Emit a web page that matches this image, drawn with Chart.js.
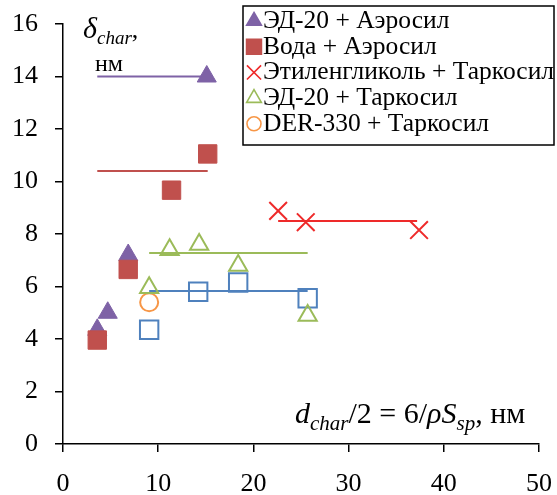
<!DOCTYPE html>
<html>
<head>
<meta charset="utf-8">
<script src="https://cdn.jsdelivr.net/npm/chart.js@4/dist/chart.umd.min.js"></script>
<style>
  body { margin: 0; background: #fff; }
  #wrap { width: 557px; height: 495px; }
</style>
</head>
<body>
<div id="wrap"><canvas id="chart"></canvas></div>
<script>
// series (x = d_char/2, y = delta_char, nm)
const ed20Aerosil = [{x: 3.6, y: 4.35}, {x: 4.7, y: 5.0}, {x: 6.85, y: 7.2}, {x: 15.1, y: 14.0}];
const waterAerosil = [{x: 3.6, y: 3.96}, {x: 6.85, y: 6.65}, {x: 11.4, y: 9.67}, {x: 15.2, y: 11.05}];
const glycolTarkosil = [{x: 22.6, y: 8.88}, {x: 25.5, y: 8.45}, {x: 37.4, y: 8.15}];
const ed20Tarkosil = [{x: 9.05, y: 5.95}, {x: 11.2, y: 7.4}, {x: 14.3, y: 7.6}, {x: 18.4, y: 6.8}, {x: 25.7, y: 4.9}];
const derTarkosil = [{x: 9.05, y: 5.4}];
const blueSquares = [{x: 9.05, y: 4.35}, {x: 14.2, y: 5.8}, {x: 18.4, y: 6.15}, {x: 25.7, y: 5.55}];

// horizontal mean lines
const ed20AerosilMean = [{x: 3.6, y: 14.0}, {x: 15.1, y: 14.0}];
const waterAerosilMean = [{x: 3.6, y: 10.4}, {x: 15.2, y: 10.4}];
const glycolMean = [{x: 22.6, y: 8.5}, {x: 37.2, y: 8.5}];
const ed20TarkosilMean = [{x: 9.05, y: 7.28}, {x: 25.7, y: 7.28}];
const blueMean = [{x: 9.05, y: 5.83}, {x: 25.7, y: 5.83}];

const legendLabels = ['ЭД-20 + Аэросил', 'Вода + Аэросил', 'Этиленгликоль + Таркосил', 'ЭД-20 + Таркосил', 'DER-330 + Таркосил'];

const purple = '#7e62a6';
const brick = '#c0504d';
const red = '#ee2a2a';
const green = '#9bbb59';
const blue = '#4f81bd';
const orange = '#f79646';
const serif = "'Liberation Serif', serif";

function meanLine(data, color, order) {
  return { type: 'line', data: data, borderColor: color, borderWidth: 2, pointRadius: 0, showLine: true, fill: false, order: order };
}

// drop the label overhang chart.js adds around the plot, layout padding does it
function fixPadding(scale) {
  scale.paddingTop = 0;
  scale.paddingBottom = 0;
  scale.paddingLeft = 0;
  scale.paddingRight = 0;
}

const textPlugin = {
  id: 'texts',
  afterDraw(chart) {
    const ctx = chart.ctx;
    ctx.save();
    ctx.fillStyle = '#000';
    ctx.textBaseline = 'alphabetic';
    ctx.textAlign = 'left';

    function run(parts, x, y) {
      parts.forEach(p => {
        ctx.font = p[1];
        ctx.fillText(p[0], x, y + (p[2] || 0));
        x += ctx.measureText(p[0]).width;
      });
    }

    // y axis caption
    run([['δ', 'italic 30px ' + serif], ['char', 'italic 19px ' + serif, 6], [',', '26px ' + serif]], 83, 38);
    run([['нм', '24px ' + serif]], 95, 71);

    // x axis caption
    run([
      ['d', 'italic 30px ' + serif], ['char', 'italic 21px ' + serif, 7],
      ['/2 = 6/', '30px ' + serif], ['ρS', 'italic 30px ' + serif],
      ['sp', 'italic 21px ' + serif, 7], [', нм', '30px ' + serif]
    ], 295, 423);

    // legend box
    const bx = 243, by = 6, bw = 311, bh = 139;
    ctx.fillStyle = '#fff';
    ctx.fillRect(bx, by, bw, bh);
    ctx.strokeStyle = '#000';
    ctx.lineWidth = 1.5;
    ctx.strokeRect(bx, by, bw, bh);

    const styles = [
      {style: 'triangle', fill: purple, stroke: purple, r: 8.5},
      {style: 'rect', fill: brick, stroke: brick, r: 10.5},
      {style: 'crossRot', fill: red, stroke: red, r: 10},
      {style: 'triangle', fill: 'rgba(0,0,0,0)', stroke: green, r: 8.5},
      {style: 'circle', fill: 'rgba(0,0,0,0)', stroke: orange, r: 7}
    ];
    ctx.font = '25.5px ' + serif;
    legendLabels.forEach((label, i) => {
      const base = 28 + i * 25.7;
      const s = styles[i];
      ctx.fillStyle = s.fill;
      ctx.strokeStyle = s.stroke;
      ctx.lineWidth = 1.6;
      Chart.helpers.drawPoint(ctx, {pointStyle: s.style, radius: s.r, rotation: 0, borderWidth: 1.6}, 254, base - 7);
      ctx.fillStyle = '#000';
      ctx.fillText(label, 263, base);
    });
    ctx.restore();
  }
};

new Chart(document.getElementById('chart'), {
  type: 'scatter',
  data: {
    datasets: [
      { label: legendLabels[1], data: waterAerosil, pointStyle: 'rect', pointRadius: 13, backgroundColor: brick, borderColor: brick, borderWidth: 1, order: 1 },
      { label: legendLabels[0], data: ed20Aerosil, pointStyle: 'triangle', pointRadius: 11, backgroundColor: purple, borderColor: purple, borderWidth: 1, order: 2 },
      { label: legendLabels[2], data: glycolTarkosil, pointStyle: 'crossRot', pointRadius: 12.5, backgroundColor: red, borderColor: red, borderWidth: 2, order: 3 },
      { label: legendLabels[3], data: ed20Tarkosil, pointStyle: 'triangle', pointRadius: 10.5, backgroundColor: 'rgba(0,0,0,0)', borderColor: green, borderWidth: 2, order: 4 },
      { label: legendLabels[4], data: derTarkosil, pointStyle: 'circle', pointRadius: 9, backgroundColor: 'rgba(0,0,0,0)', borderColor: orange, borderWidth: 2, order: 5 },
      { label: 'blue', data: blueSquares, pointStyle: 'rect', pointRadius: 13, backgroundColor: 'rgba(0,0,0,0)', borderColor: blue, borderWidth: 2, order: 6 },
      meanLine(ed20AerosilMean, purple, 7),
      meanLine(waterAerosilMean, brick, 8),
      meanLine(glycolMean, red, 9),
      meanLine(ed20TarkosilMean, green, 10),
      meanLine(blueMean, blue, 11)
    ]
  },
  options: {
    responsive: true,
    maintainAspectRatio: false,
    animation: false,
    layout: { padding: { top: 24, right: 18, left: 0, bottom: 0 } },
    plugins: {
      legend: { display: false },
      tooltip: { enabled: false }
    },
    scales: {
      x: {
        type: 'linear',
        min: 0,
        max: 50,
        afterFit: (scale) => { scale.height = 51; fixPadding(scale); },
        ticks: { stepSize: 10, color: '#000', font: { family: serif, size: 26 }, padding: 17, maxRotation: 0 },
        grid: { drawOnChartArea: false, drawTicks: true, tickLength: 8, color: '#000', lineWidth: 1.5 },
        border: { display: true, color: '#000', width: 1.5 }
      },
      y: {
        type: 'linear',
        min: 0,
        max: 16,
        afterFit: (scale) => { scale.width = 63; fixPadding(scale); },
        ticks: { stepSize: 2, color: '#000', font: { family: serif, size: 26 }, padding: 17 },
        grid: { drawOnChartArea: false, drawTicks: true, tickLength: 8, color: '#000', lineWidth: 1.5 },
        border: { display: true, color: '#000', width: 1.5 }
      }
    }
  },
  plugins: [textPlugin]
});
</script>
</body>
</html>
